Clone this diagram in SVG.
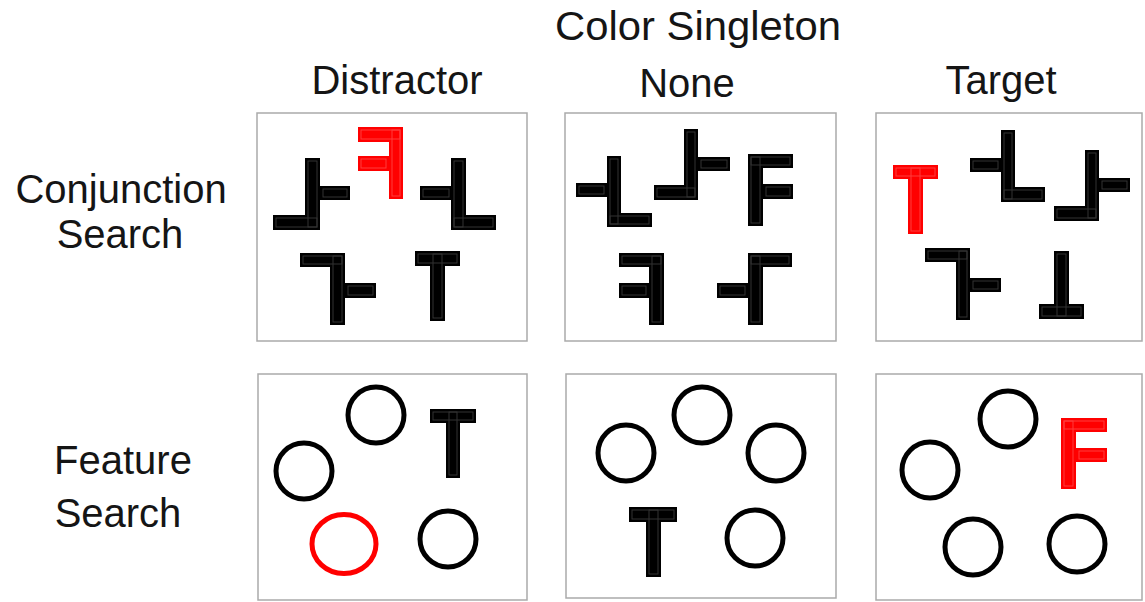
<svg xmlns="http://www.w3.org/2000/svg" width="1145" height="602" viewBox="0 0 1145 602">
<style>
text{font-family:"Liberation Sans",Arial,sans-serif;font-size:40px;fill:#151515;text-anchor:middle}
.panel{fill:#fff;stroke:#aaa;stroke-width:1.5}
.k rect{fill:#000}
.r rect{fill:#f00}
.ki{fill:none;stroke:#333;stroke-width:1}
.ri{fill:none;stroke:#ff3c3c;stroke-width:1}
.c{fill:none;stroke:#000;stroke-width:5}
.cr{fill:none;stroke:#f00;stroke-width:5}
</style>
<rect width="1145" height="602" fill="#fff"/>
<g id="labels">
<text x="698" y="40" textLength="286" lengthAdjust="spacingAndGlyphs">Color Singleton</text>
<text x="397" y="94">Distractor</text>
<text x="687" y="97">None</text>
<text x="1001" y="94">Target</text>
<text x="121" y="203">Conjunction</text>
<text x="120" y="248">Search</text>
<text x="123" y="474">Feature</text>
<text x="118" y="527">Search</text>
</g>
<g id="panel-conj-distractor">
<rect class="panel" x="257" y="113" width="270" height="228"/>
<g class="k">
<rect x="305" y="158" width="15" height="72"/><rect x="273" y="215" width="47" height="15"/><rect x="320" y="186" width="30" height="14"/>
<rect x="420" y="186" width="32" height="14"/><rect x="451" y="158" width="15" height="72"/><rect x="451" y="215" width="45" height="15"/>
<rect x="300" y="253" width="45" height="14"/><rect x="330" y="253" width="15" height="72"/><rect x="345" y="283" width="31" height="15"/>
<rect x="415" y="251" width="45" height="15"/><rect x="430" y="251" width="15" height="70"/>
</g>
<g class="ki">
<rect x="308" y="161" width="9" height="66"/><rect x="276" y="218" width="41" height="9"/><rect x="323" y="189" width="24" height="8"/>
<rect x="423" y="189" width="26" height="8"/><rect x="454" y="161" width="9" height="66"/><rect x="454" y="218" width="39" height="9"/>
<rect x="303" y="256" width="39" height="8"/><rect x="333" y="256" width="9" height="66"/><rect x="348" y="286" width="25" height="9"/>
<rect x="418" y="254" width="39" height="9"/><rect x="433" y="254" width="9" height="64"/>
</g>
<g class="r">
<rect x="358" y="127" width="45" height="15"/><rect x="389" y="127" width="14" height="72"/><rect x="358" y="156" width="31" height="15"/>
</g>
<g class="ri">
<rect x="361" y="130" width="39" height="9"/><rect x="392" y="130" width="8" height="66"/><rect x="361" y="159" width="25" height="9"/>
</g>
</g>
<g id="panel-conj-none">
<rect class="panel" x="565" y="113" width="271" height="228"/>
<g class="k">
<rect x="576" y="183" width="31" height="14"/><rect x="607" y="156" width="14" height="71"/><rect x="607" y="213" width="45" height="14"/>
<rect x="684" y="129" width="14" height="71"/><rect x="654" y="185" width="44" height="15"/><rect x="698" y="157" width="32" height="14"/>
<rect x="748" y="154" width="15" height="72"/><rect x="748" y="154" width="45" height="14"/><rect x="763" y="184" width="30" height="15"/>
<rect x="619" y="253" width="45" height="14"/><rect x="649" y="253" width="15" height="72"/><rect x="619" y="283" width="30" height="15"/>
<rect x="748" y="253" width="44" height="14"/><rect x="748" y="253" width="15" height="72"/><rect x="717" y="283" width="31" height="15"/>
</g>
<g class="ki">
<rect x="579" y="186" width="25" height="8"/><rect x="610" y="159" width="8" height="65"/><rect x="610" y="216" width="39" height="8"/>
<rect x="687" y="132" width="8" height="65"/><rect x="657" y="188" width="38" height="9"/><rect x="701" y="160" width="26" height="8"/>
<rect x="751" y="157" width="9" height="66"/><rect x="751" y="157" width="39" height="8"/><rect x="766" y="187" width="24" height="9"/>
<rect x="622" y="256" width="39" height="8"/><rect x="652" y="256" width="9" height="66"/><rect x="622" y="286" width="24" height="9"/>
<rect x="751" y="256" width="38" height="8"/><rect x="751" y="256" width="9" height="66"/><rect x="720" y="286" width="25" height="9"/>
</g>
</g>
<g id="panel-conj-target">
<rect class="panel" x="876" y="113" width="266" height="228"/>
<g class="k">
<rect x="970" y="158" width="31" height="14"/><rect x="1001" y="130" width="14" height="72"/><rect x="1001" y="187" width="44" height="15"/>
<rect x="1085" y="150" width="14" height="71"/><rect x="1054" y="206" width="45" height="15"/><rect x="1099" y="178" width="31" height="14"/>
<rect x="925" y="248" width="45" height="14"/><rect x="956" y="248" width="14" height="72"/><rect x="970" y="278" width="31" height="14"/>
<rect x="1054" y="251" width="15" height="68"/><rect x="1039" y="304" width="45" height="15"/>
</g>
<g class="ki">
<rect x="973" y="161" width="25" height="8"/><rect x="1004" y="133" width="8" height="66"/><rect x="1004" y="190" width="38" height="9"/>
<rect x="1088" y="153" width="8" height="65"/><rect x="1057" y="209" width="39" height="9"/><rect x="1102" y="181" width="25" height="8"/>
<rect x="928" y="251" width="39" height="8"/><rect x="959" y="251" width="8" height="66"/><rect x="973" y="281" width="25" height="8"/>
<rect x="1057" y="254" width="9" height="62"/><rect x="1042" y="307" width="39" height="9"/>
</g>
<g class="r">
<rect x="893" y="165" width="45" height="14"/><rect x="908" y="165" width="15" height="69"/>
</g>
<g class="ri">
<rect x="896" y="168" width="39" height="8"/><rect x="911" y="168" width="9" height="63"/>
</g>
</g>
<g id="panel-feat-distractor">
<rect class="panel" x="258" y="374" width="269" height="226"/>
<circle class="c" cx="376" cy="415" r="28"/>
<circle class="c" cx="304" cy="471" r="28"/>
<ellipse class="cr" cx="344" cy="544" rx="32" ry="29.5"/>
<circle class="c" cx="448" cy="539" r="28"/>
<g class="k"><rect x="430" y="409" width="46" height="14"/><rect x="446" y="409" width="14" height="69"/></g>
<g class="ki"><rect x="433" y="412" width="40" height="8"/><rect x="449" y="412" width="8" height="63"/></g>
</g>
<g id="panel-feat-none">
<rect class="panel" x="566" y="374" width="270" height="224"/>
<circle class="c" cx="702" cy="415" r="28"/>
<circle class="c" cx="626" cy="453" r="28"/>
<circle class="c" cx="776" cy="453" r="28"/>
<circle class="c" cx="755" cy="538" r="28"/>
<g class="k"><rect x="629" y="507" width="48" height="15"/><rect x="646" y="507" width="15" height="70"/></g>
<g class="ki"><rect x="632" y="510" width="42" height="9"/><rect x="649" y="510" width="9" height="64"/></g>
</g>
<g id="panel-feat-target">
<rect class="panel" x="876" y="374" width="266" height="226"/>
<circle class="c" cx="1008" cy="419" r="28"/>
<circle class="c" cx="930" cy="470" r="28"/>
<circle class="c" cx="973" cy="547" r="28"/>
<circle class="c" cx="1077" cy="544" r="28"/>
<g class="r"><rect x="1061" y="418" width="15" height="71"/><rect x="1061" y="418" width="46" height="14"/><rect x="1076" y="448" width="31" height="14"/></g>
<g class="ri"><rect x="1064" y="421" width="9" height="65"/><rect x="1064" y="421" width="40" height="8"/><rect x="1079" y="451" width="25" height="8"/></g>
</g>
<g id="connectors"></g>
</svg>
